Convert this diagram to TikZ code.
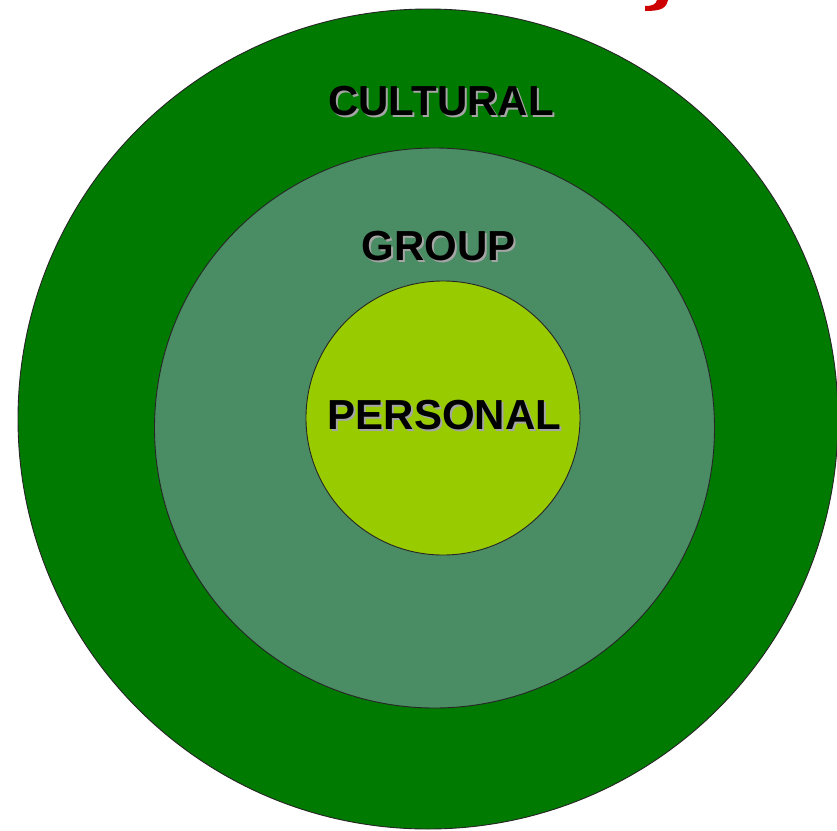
\documentclass[tikz,border=0pt]{standalone}
\usepackage{fontspec}
\setmainfont{Liberation Sans}
\definecolor{outergreen}{RGB}{0,122,0}
\definecolor{midgreen}{RGB}{74,140,100}
\definecolor{innergreen}{RGB}{153,204,0}
\definecolor{shadowgray}{RGB}{165,165,165}
\definecolor{titlered}{RGB}{204,0,0}
\newcommand{\shadowtext}[1]{\makebox[0pt][l]{\hspace{2pt}\raisebox{-2pt}{\textcolor{shadowgray}{#1}}}#1}
\tikzset{
  ring/.style={draw=black!85, line width=0.9pt},
  lbl/.style={font=\fontsize{42}{42}\selectfont\bfseries, text=black, anchor=base, inner sep=0pt}
}
\begin{document}
\begin{tikzpicture}[x=1pt,y=-1pt]
\useasboundingbox (0,0) rectangle (837,830);
\fill[white] (0,0) rectangle (837,830);
% red fragment of a cut-off title letter
\fill[titlered] (657,0) -- (668,0) .. controls (666,8) and (662,11) .. (645,11) -- (645,6) .. controls (653,6) and (656,4) .. (657,0) -- cycle;
% rings
\path[ring, fill=outergreen] (428,419) circle (410);
\path[ring, fill=midgreen] (434.5,428) circle (280);
\path[ring, fill=innergreen] (443,418) circle (137);
% labels with shadows
\node[lbl] (cultural) at (441,115) {\shadowtext{CULTURAL}};
\node[lbl] (group) at (439,260) {\shadowtext{GROUP}};
\node[lbl] (personal) at (444.5,429) {\shadowtext{PERSONAL}};
\end{tikzpicture}
\end{document}
